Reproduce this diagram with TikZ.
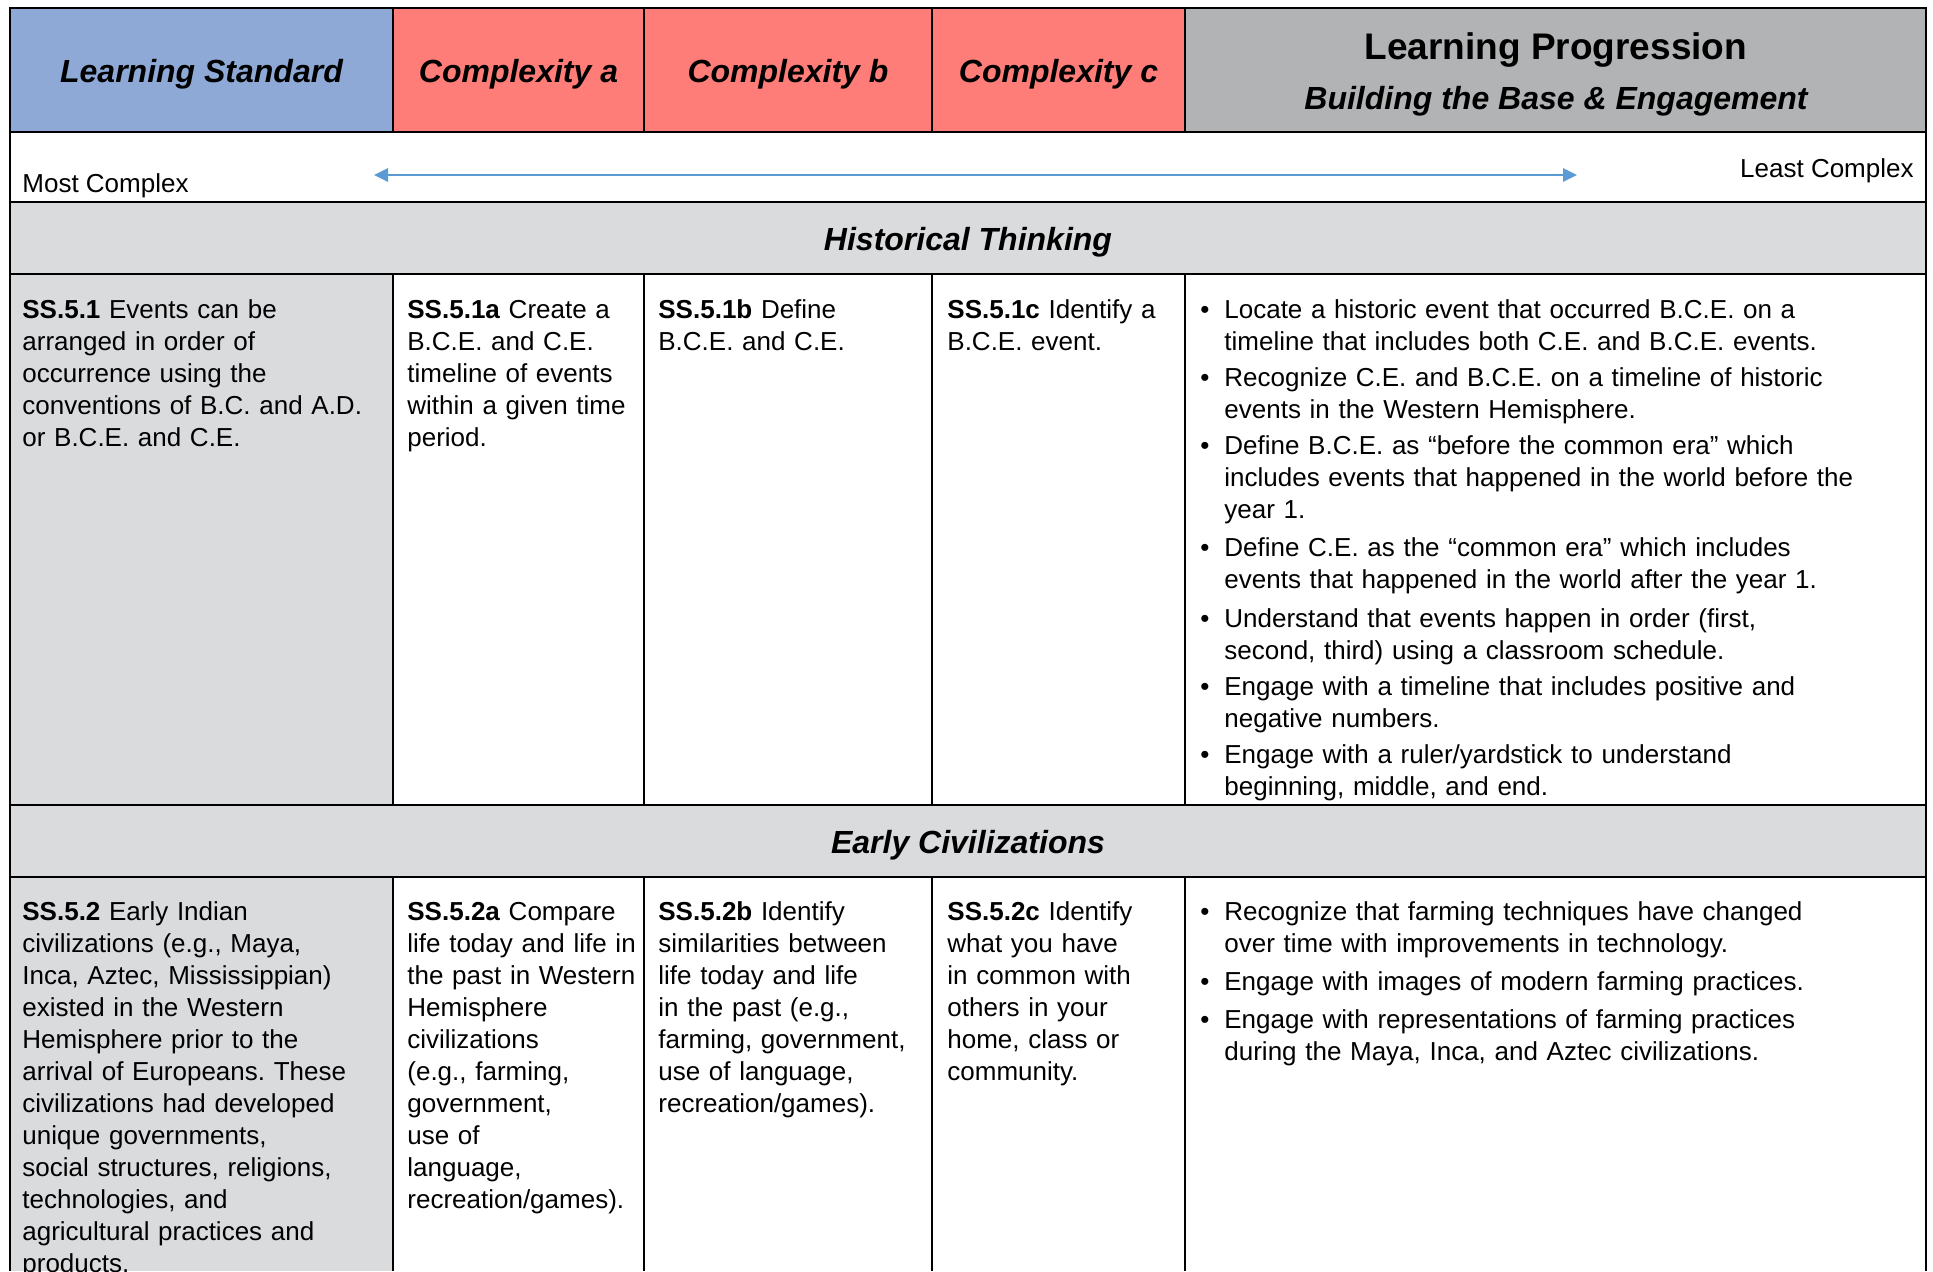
\documentclass[tikz,border=0pt]{standalone}
\usepackage{fontspec}
\setmainfont{Liberation Sans}
\usepackage{tikz}
\usetikzlibrary{arrows.meta}
\frenchspacing

\definecolor{stdblue}{HTML}{8EA9D6}
\definecolor{cplxred}{HTML}{FF7D78}
\definecolor{lpgray}{HTML}{B1B3B5}
\definecolor{bandgray}{HTML}{DADBDD}
\definecolor{arrblue}{HTML}{5B9BD5}
\newcommand{\dotitem}{\leavevmode\llap{•\hspace{7.5pt}}}

\begin{document}
\begin{tikzpicture}[x=0.5pt,y=-0.5pt,
	grid/.style={line width=1pt,black},
	head/.style={inner sep=0pt,anchor=base,font=\fontsize{16}{19}\selectfont\bfseries\itshape},
	body/.style={inner sep=0pt,anchor=base west,align=left,font=\fontsize{13}{16}\selectfont},
	prog/.style={body,text width=355pt}]
			\useasboundingbox (0,0) rectangle (1933,1271);
			% cell colours
			\fill[stdblue] (10,8) rectangle (393,132);
			\fill[cplxred] (393,8) rectangle (1185,132);
			\fill[lpgray] (1185,8) rectangle (1926,132);
			\fill[bandgray] (10,202) rectangle (1926,274);
			\fill[bandgray] (10,274) rectangle (393,805);
			\fill[bandgray] (10,805) rectangle (1926,877);
			\fill[bandgray] (10,877) rectangle (393,1271);
			% rules
			\draw[grid] (10,1271) -- (10,8) -- (1926,8) -- (1926,1271);
			\draw[grid] (10,132) -- (1926,132) (10,202) -- (1926,202) (10,274) -- (1926,274)
				(10,805) -- (1926,805) (10,877) -- (1926,877);
			\draw[grid] (393,8) -- (393,132) (644,8) -- (644,132) (932,8) -- (932,132) (1185,8) -- (1185,132);
			\draw[grid] (393,274) -- (393,805) (644,274) -- (644,805) (932,274) -- (932,805) (1185,274) -- (1185,805);
			\draw[grid] (393,877) -- (393,1271) (644,877) -- (644,1271) (932,877) -- (932,1271) (1185,877) -- (1185,1271);

			\node[head] (h0) at (201.5,82) {Learning Standard};
			\node[head] (h1) at (518.5,82) {Complexity a};
			\node[head] (h2) at (788,82) {Complexity b};
			\node[head] (h3) at (1058.5,82) {Complexity c};
			\node[head,font=\fontsize{18.5}{22}\selectfont\bfseries] (h4) at (1556,59) {Learning Progression};
			\node[head] (h5) at (1556,109) {Building the Base \& Engagement};

			\node[body] (most) at (22,192) {Most Complex};
			\node[body,anchor=base east] (least) at (1914,177) {Least Complex};
			\coordinate (lo) at (374,175);
			\coordinate (hi) at (1577,175);
			\draw[arrblue,line width=1.4pt,{Triangle[length=7pt,width=6.5pt]}-{Triangle[length=7pt,width=6.5pt]}] (lo) -- (hi);

			\node[head] (t1) at (968,250) {Historical Thinking};
			\node[body,text width=185pt] (s1) at (22,318)
				{\textbf{SS.5.1} Events can be\\arranged in order of\\occurrence using the\\conventions of B.C. and A.D.\\or B.C.E. and C.E.};
			\node[body,text width=130pt] (a1) at (407,318)
				{\textbf{SS.5.1a} Create a\\B.C.E. and C.E.\\timeline of events\\within a given time\\period.};
			\node[body,text width=140pt] (b1) at (658,318) {\textbf{SS.5.1b} Define\\B.C.E. and C.E.};
			\node[body,text width=120pt] (c1) at (947,318) {\textbf{SS.5.1c} Identify a\\B.C.E. event.};
			\node[prog] (p1) at (1224,318) {\dotitem Locate a historic event that occurred B.C.E. on a\\timeline that includes both C.E. and B.C.E. events.};
			\node[prog] (p2) at (1224,386) {\dotitem Recognize C.E. and B.C.E. on a timeline of historic\\events in the Western Hemisphere.};
			\node[prog] (p3) at (1224,454) {\dotitem Define B.C.E. as “before the common era” which\\includes events that happened in the world before the\\year 1.};
			\node[prog] (p4) at (1224,556) {\dotitem Define C.E. as the “common era” which includes\\events that happened in the world after the year 1.};
			\node[prog] (p5) at (1224,627) {\dotitem Understand that events happen in order (first,\\second, third) using a classroom schedule.};
			\node[prog] (p6) at (1224,695) {\dotitem Engage with a timeline that includes positive and\\negative numbers.};
			\node[prog] (p7) at (1224,763) {\dotitem Engage with a ruler/yardstick to understand\\beginning, middle, and end.};

			\node[head] (t2) at (968,853) {Early Civilizations};
			\node[body,text width=185pt] (s2) at (22,920)
				{\textbf{SS.5.2} Early Indian\\civilizations (e.g., Maya,\\Inca, Aztec, Mississippian)\\existed in the Western\\Hemisphere prior to the\\arrival of Europeans. These\\civilizations had developed\\unique governments,\\social structures, religions,\\technologies, and\\agricultural practices and\\products.};
			\node[body,text width=130pt] (a2) at (407,920)
				{\textbf{SS.5.2a} Compare\\life today and life in\\the past in Western\\Hemisphere\\civilizations\\(e.g., farming,\\government,\\use of\\language,\\recreation/games).};
			\node[body,text width=140pt] (b2) at (658,920)
				{\textbf{SS.5.2b} Identify\\similarities between\\life today and life\\in the past (e.g.,\\farming, government,\\use of language,\\recreation/games).};
			\node[body,text width=120pt] (c2) at (947,920)
				{\textbf{SS.5.2c} Identify\\what you have\\in common with\\others in your\\home, class or\\community.};
			\node[prog] (q1) at (1224,920) {\dotitem Recognize that farming techniques have changed\\over time with improvements in technology.};
			\node[prog] (q2) at (1224,990) {\dotitem Engage with images of modern farming practices.};
			\node[prog] (q3) at (1224,1028) {\dotitem Engage with representations of farming practices\\during the Maya, Inca, and Aztec civilizations.};
		\end{tikzpicture}
\end{document}
